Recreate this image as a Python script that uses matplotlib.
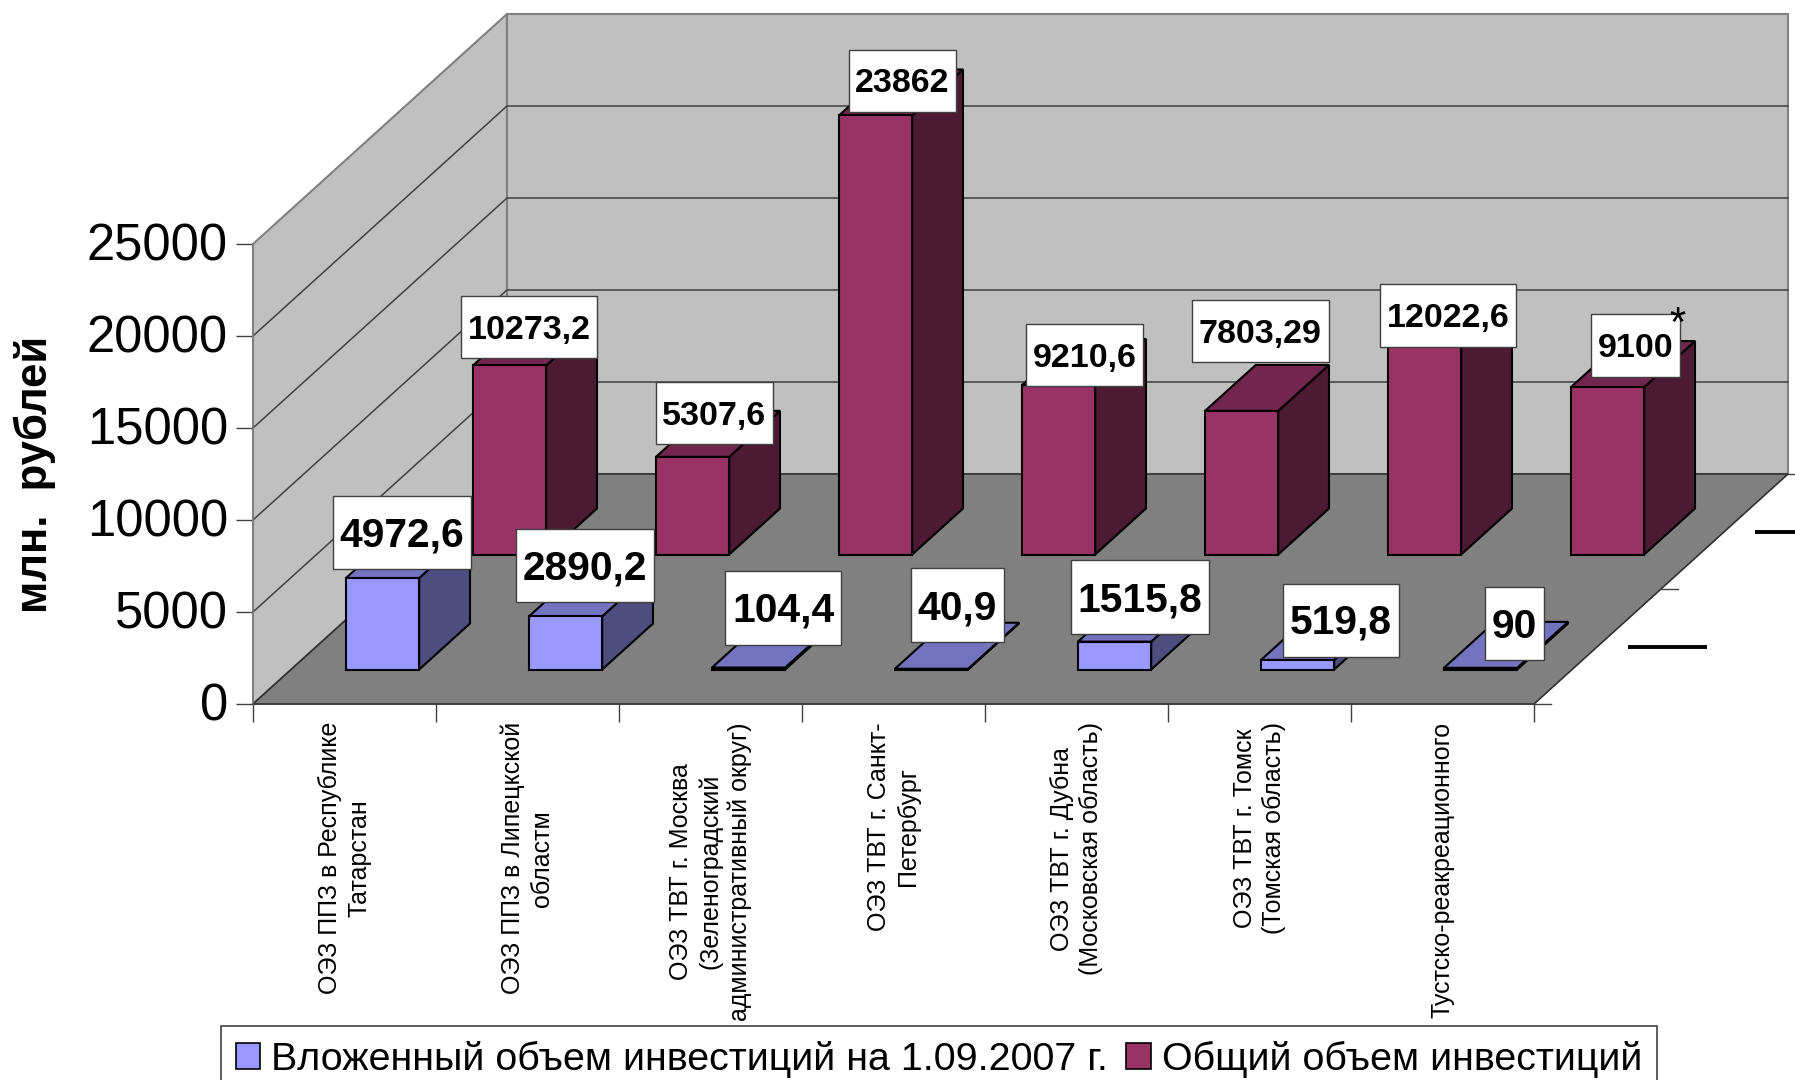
import matplotlib
matplotlib.use("Agg")
import matplotlib.pyplot as plt
from matplotlib.axes import Axes
from matplotlib.patches import Patch, Polygon, Rectangle
from matplotlib.transforms import ScaledTranslation

plt.rcParams["font.family"] = ["Liberation Sans", "DejaVu Sans"]

categories = [
    "ОЭЗ ППЗ в Республике\nТатарстан",
    "ОЭЗ ППЗ в Липецкской\nобластм",
    "ОЭЗ ТВТ г. Москва\n(Зеленоградский\nадминистративный округ)",
    "ОЭЗ ТВТ г. Санкт-\nПетербург",
    "ОЭЗ ТВТ г. Дубна\n(Московская область)",
    "ОЭЗ ТВТ г. Томск\n(Томская область)",
    "Тустско-реакреационного",
]
series_names = ["Вложенный объем инвестиций на 1.09.2007 г.", "Общий объем инвестиций"]
invested = [4972.6, 2890.2, 104.4, 40.9, 1515.8, 519.8, 90]
total = [10273.2, 5307.6, 23862, 9210.6, 7803.29, 12022.6, 9100]
invested_labels = ["4972,6", "2890,2", "104,4", "40,9", "1515,8", "519,8", "90"]
total_labels = ["10273,2", "5307,6", "23862", "9210,6", "7803,29", "12022,6", "9100"]
y_ticks = [0, 5000, 10000, 15000, 20000, 25000]

# label boxes were moved by hand in the original: centre x, centre y, width, height in image pixels
invested_boxes = [
    (401.5, 532.5, 138, 73), (585, 565, 138, 73), (783, 608, 116, 74), (957.5, 605, 93, 74),
    (1140, 597, 138, 74), (1341, 620, 116, 73), (1514.5, 623.5, 59, 73),
]
total_boxes = [
    (529, 327, 136, 62), (714, 413, 117, 62), (902.5, 81, 107, 62), (1084.5, 355, 117, 62),
    (1260, 331, 137, 62), (1448, 315, 136, 63), (1635.5, 345.5, 89, 63),
]

WIDTH, HEIGHT = 1795, 1080
LEFT, RIGHT, FLOOR, TOP = 253, 1534, 704, 244
DEPTH_X = 254 / 183  # one unit of depth in category units
DEPTH_Y = 12500  # one unit of depth in value units
Y_MAX = 25000

BLUE = ("#9999FF", "#4D4D80", "#7373BF")
PLUM = ("#993366", "#4D1A33", "#73264D")


def project(x: float, y: float, d: float) -> tuple[float, float]:
    """Oblique projection of a (category, value, depth) point to axes data."""
    return x + d * DEPTH_X, y + d * DEPTH_Y


def from_pixels(px: float, py: float) -> tuple[float, float]:
    """Image pixel to axes data, for the hand-placed label boxes."""
    return (px - LEFT) / (RIGHT - LEFT) * 7, (FLOOR - py) / (FLOOR - TOP) * Y_MAX


def face(ax: Axes, corners, color, edge="none", lw=0.0, zorder=1) -> None:
    pts = [project(*c) for c in corners]
    ax.add_patch(Polygon(pts, closed=True, facecolor=color, edgecolor=edge, linewidth=lw,
                         joinstyle="miter", clip_on=False, zorder=zorder))


def draw_box(ax: Axes, x0, x1, d0, d1, value, colors, zorder) -> None:
    front, side, top = colors
    face(ax, [(x1, 0, d0), (x1, 0, d1), (x1, value, d1), (x1, value, d0)], side, "black", 1.5, zorder)
    face(ax, [(x0, value, d0), (x1, value, d0), (x1, value, d1), (x0, value, d1)], top, "black", 1.5, zorder)
    face(ax, [(x0, 0, d0), (x1, 0, d0), (x1, value, d0), (x0, value, d0)], front, "black", 1.5, zorder)


def draw_label(ax: Axes, box, text, size) -> None:
    cx, cy, w, h = box
    x0, y0 = from_pixels(cx - w / 2, cy + h / 2)
    x1, y1 = from_pixels(cx + w / 2, cy - h / 2)
    ax.add_patch(Rectangle((x0, y0), x1 - x0, y1 - y0, facecolor="white", edgecolor="#404040",
                           linewidth=1.0, clip_on=False, zorder=20))
    tx, ty = from_pixels(cx, cy + 3)
    ax.text(tx, ty, text, ha="center", va="center", fontsize=size, fontweight="bold",
            color="black", clip_on=False, zorder=21)


fig = plt.figure(figsize=(WIDTH / 100, HEIGHT / 100), dpi=100)
ax = fig.add_axes([LEFT / WIDTH, 1 - FLOOR / HEIGHT, (RIGHT - LEFT) / WIDTH, (FLOOR - TOP) / HEIGHT])
ax.set_xlim(0, len(categories))
ax.set_ylim(0, Y_MAX)
ax.patch.set_visible(False)
for name in ("top", "right"):
    ax.spines[name].set_visible(False)
for name in ("left", "bottom"):
    ax.spines[name].set_color("#404040")
    ax.spines[name].set_linewidth(1.2)
    ax.spines[name].set_zorder(5)
ax.spines["left"].set_color("#808080")

n = len(categories)

# walls and floor
face(ax, [(0, 0, 0), (0, Y_MAX, 0), (0, Y_MAX, 1), (0, 0, 1)], "#C0C0C0", "#808080", 1.5)
face(ax, [(0, 0, 1), (n, 0, 1), (n, Y_MAX, 1), (0, Y_MAX, 1)], "#C0C0C0", "#808080", 1.5)
face(ax, [(0, 0, 0), (n, 0, 0), (n, 0, 1), (0, 0, 1)], "#808080", "#303030", 1.2, zorder=2)

for tick in y_ticks[1:-1]:
    xs, ys = zip(project(0, tick, 0), project(0, tick, 1), project(n, tick, 1))
    ax.plot(xs, ys, color="#404040", lw=1.1, clip_on=False, zorder=2)

# depth axis ticks and the squashed series names of the original
for d in (0, 0.5, 1):
    x, y = project(n, 0, d)
    ax.plot([x, x + 0.095], [y, y], color="#404040", lw=1.0, clip_on=False, zorder=2)
for d in (0.25, 0.75):
    x, y = project(n, 0, d)
    ax.plot([x + 0.165, x + 0.6], [y - 40, y - 40], color="black", lw=2.8, solid_capstyle="butt",
            clip_on=False, zorder=2)

# back row first, then front row
for i, value in enumerate(total):
    draw_box(ax, i + 0.3, i + 0.7, 0.65, 0.85, value, PLUM, 5 + i * 0.01)
for i, value in enumerate(invested):
    draw_box(ax, i + 0.3, i + 0.7, 0.15, 0.35, value, BLUE, 8 + i * 0.01)

for box, text in zip(total_boxes, total_labels):
    draw_label(ax, box, text, 24.5)
for box, text in zip(invested_boxes, invested_labels):
    draw_label(ax, box, text, 29.3)

sx, sy = from_pixels(1677, 325)
ax.text(sx, sy, "*", ha="center", va="center", fontsize=30, color="black", clip_on=False, zorder=22)

ax.set_yticks(y_ticks)
ax.tick_params(axis="y", length=12, width=1.0, color="#404040", pad=6, labelsize=36.5, labelcolor="black")
nudge = ScaledTranslation(0, 1.7 / 72, fig.dpi_scale_trans)
for label in ax.get_yticklabels():
    label.set_transform(label.get_transform() + nudge)
ax.set_xticks(range(n + 1))
ax.set_xticklabels([])
ax.tick_params(axis="x", which="major", length=13, width=1.0, color="#404040")
ax.set_xticks([i + 0.5 for i in range(n)], minor=True)
ax.set_xticklabels(categories, minor=True, rotation=90, fontsize=18, ha="center", va="top",
                   multialignment="center", linespacing=1.28)
ax.tick_params(axis="x", which="minor", length=0, pad=13)

ax.set_ylabel("млн.  рублей", fontsize=31.5, fontweight="bold", labelpad=22)

handles = [
    Patch(facecolor=BLUE[0], edgecolor="black", linewidth=1.2, label=series_names[0]),
    Patch(facecolor=PLUM[0], edgecolor="black", linewidth=1.2, label=series_names[1]),
]
# bottom edge of the frame is cut by the image border in the original
legend = fig.legend(handles=handles, ncol=2, loc="lower left", bbox_to_anchor=(221 / WIDTH, -13 / HEIGHT),
                    borderaxespad=0, frameon=True, fancybox=False, edgecolor="#404040", framealpha=1,
                    fontsize=28.4, handlelength=0.62, handleheight=0.62, handletextpad=0.28,
                    columnspacing=0.45, borderpad=0.38)
legend.get_frame().set_linewidth(1.2)

fig.savefig("out.png", dpi=100)
